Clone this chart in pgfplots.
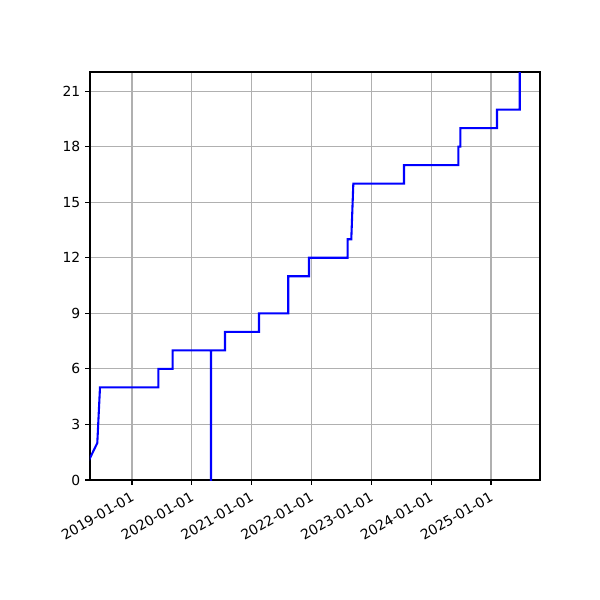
\documentclass[border=0pt]{standalone}
\usepackage{fontspec}
\setmainfont{DejaVu Sans}
\usepackage{pgfplots}
\pgfplotsset{compat=1.18}
\definecolor{gridgray}{HTML}{B0B0B0}

\begin{document}
\begin{tikzpicture}
% whole 600x600 figure (1px = 0.72pt)
\useasboundingbox (-64.8pt,-86.4pt) rectangle (367.2pt,345.6pt);
\begin{axis}[
    at={(0pt,0pt)}, anchor=south west,
    scale only axis,
    width=324pt, height=293.76pt,
    xmin=2018.298, xmax=2025.819,
    ymin=0, ymax=22.03,
    xtick={2019,2020,2021,2022,2023,2024,2025},
    xticklabels={2019-01-01,2020-01-01,2021-01-01,2022-01-01,2023-01-01,2024-01-01,2025-01-01},
    ytick={0,3,6,9,12,15,18,21},
    x tick label style={rotate=30, anchor=north east, inner sep=1pt, xshift=-2.5pt, yshift=-2pt},
    tick label style={font=\fontsize{10}{12}\selectfont},
    /pgf/number format/assume math mode=true,
    tick align=outside,
    major tick length=3.5pt,
    xtick pos=bottom, ytick pos=left,
    grid=major,
    major grid style={gridgray, line width=0.8pt},
    axis line style={line width=0.8pt},
    every tick/.style={black, line width=0.8pt},
    clip=true,
]
\addplot[blue, line width=1.5pt] coordinates {
    (2018.270, 1)
    (2018.420, 2)
    (2018.465, 5)
    (2019.440, 5)
    (2019.440, 6)
    (2019.680, 6)
    (2019.680, 7)
    (2020.320, 7)
    (2020.320, -1)
    (2020.320, 7)
    (2020.554, 7)
    (2020.554, 8)
    (2021.123, 8)
    (2021.123, 9)
    (2021.612, 9)
    (2021.612, 11)
    (2021.958, 11)
    (2021.958, 12)
    (2022.605, 12)
    (2022.605, 13)
    (2022.665, 13)
    (2022.699, 16)
    (2023.546, 16)
    (2023.546, 17)
    (2024.454, 17)
    (2024.454, 18)
    (2024.487, 18)
    (2024.487, 19)
    (2025.100, 19)
    (2025.100, 20)
    (2025.480, 20)
    (2025.480, 23)
};
\end{axis}
\end{tikzpicture}
\end{document}
